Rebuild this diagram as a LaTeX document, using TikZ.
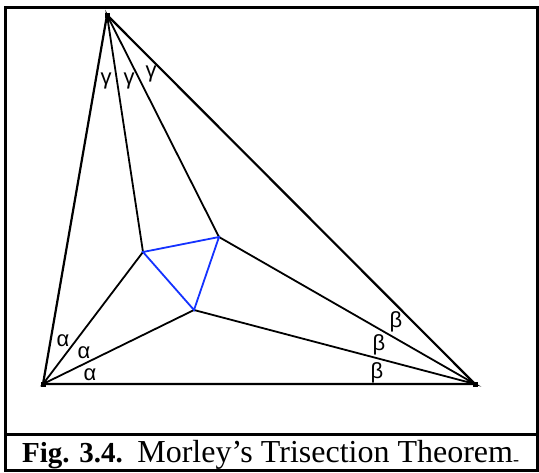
\documentclass[tikz,border=0pt]{standalone}
\usepackage{fontspec}
\setmainfont{Liberation Serif}
\newfontfamily\greekfont{Liberation Sans}
\usetikzlibrary{positioning}
\definecolor{mblue}{RGB}{20,50,255}

\begin{document}
\begin{tikzpicture}[x=1pt,y=-1pt,
  vtx/.style={fill,inner sep=0pt,minimum size=5pt},
  side/.style={line width=2.2pt},
  trisect/.style={line width=1.8pt},
  morley/.style={line width=1.8pt,draw=mblue},
  ang/.style={font=\greekfont\fontsize{22}{22}\selectfont,inner sep=0pt}]
\useasboundingbox (0,0) rectangle (539,472);
% frame and caption
\draw[line width=3pt] (5,7) rectangle (537,470);
\draw[line width=3pt] (5,434) -- (537,434);
\node[anchor=base west,inner sep=0pt,font=\fontsize{29}{30}\selectfont] (cap) at (22,462)
  {\textbf{Fig. 3.4.}\ \ {\fontsize{32}{32}\selectfont Morley’s Trisection Theorem}\raisebox{-3pt}{\fontsize{18}{18}\selectfont -}};
% triangle
\node[vtx] (A) at (43,384) {};
\node[vtx] (B) at (475,384) {};
\node[vtx] (C) at (107,15) {};
\coordinate (P) at (143,252);
\coordinate (Q) at (219,237);
\coordinate (R) at (194,310);
\draw[side] (A.center) -- (B.center) -- (C.center) -- cycle;
% trisectors
\draw[trisect] (A.center) -- (P) -- (C.center) -- (Q) -- (B.center) -- (R) -- cycle;
\draw[morley] (P) -- (Q) -- (R) -- cycle;
% angle marks
\node[ang] (a1) at (63,341) {α};
\node[ang] (a2) at (84,353) {α};
\node[ang] (a3) at (90,375) {α};
\node[ang] (b1) at (396,322) {β};
\node[ang] (b2) at (379,345) {β};
\node[ang] (b3) at (377,373) {β};
\node[ang] (c1) at (106,81) {γ};
\node[ang] (c2) at (129,81) {γ};
\node[ang] (c3) at (151,74) {γ};
\end{tikzpicture}
\end{document}
